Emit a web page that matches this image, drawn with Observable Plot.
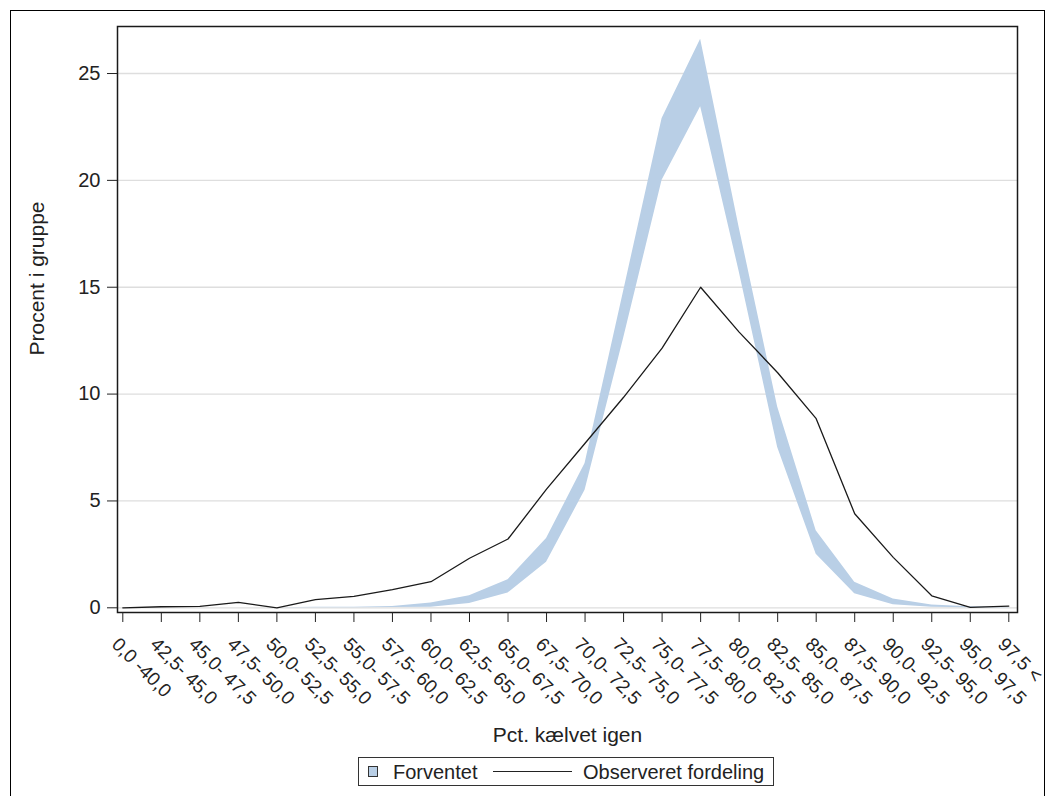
<!DOCTYPE html>
<html>
<head>
<meta charset="utf-8">
<script src="https://cdn.jsdelivr.net/npm/d3@7"></script>
<script src="https://cdn.jsdelivr.net/npm/@observablehq/plot@0.6"></script>
<style>
  body { margin: 0; background: #fff; font-family: "Liberation Sans", Arial, sans-serif; color: #222; }
  #wrap { position: relative; width: 1058px; height: 796px; overflow: hidden; }
  #border { position: absolute; left: 10px; top: 10px; width: 1035px; height: 820px; border: 1px solid #000; box-sizing: border-box; }
  #chart { position: absolute; left: 0; top: 0; }
  #legend { position: absolute; left: 358px; top: 757px; width: 416px; height: 29px; border: 1px solid #333; box-sizing: border-box; font-size: 20px; line-height: 20px; }
  #legend .sw { position: absolute; left: 9px; top: 8px; width: 8px; height: 9px; background: #b9cfe6; border: 1px solid #333; }
  #legend .lab { position: absolute; top: 4px; white-space: nowrap; }
  #legend .ln { position: absolute; left: 134px; width: 79px; top: 13px; height: 0; border-top: 1.3px solid #222; }
</style>
</head>
<body>
<div id="wrap">
  <div id="border"></div>
  <div id="chart"></div>
  <div id="legend"></div>
</div>
<script>
const categories = ["0,0 -40,0", "42,5- 45,0", "45,0- 47,5", "47,5- 50,0", "50,0- 52,5", "52,5- 55,0",
  "55,0- 57,5", "57,5- 60,0", "60,0- 62,5", "62,5- 65,0", "65,0- 67,5", "67,5- 70,0",
  "70,0- 72,5", "72,5- 75,0", "75,0- 77,5", "77,5- 80,0", "80,0- 82,5", "82,5- 85,0",
  "85,0- 87,5", "87,5- 90,0", "90,0- 92,5", "92,5- 95,0", "95,0- 97,5", "97,5 <"];
const observed = [0.0, 0.05, 0.07, 0.25, 0.0, 0.38, 0.53, 0.85, 1.22, 2.32, 3.22, 5.55,
  7.7, 9.85, 12.15, 15.0, 12.9, 11.0, 8.85, 4.4, 2.36, 0.56, 0.02, 0.08];
const expectedLow = [0, 0, 0, 0, 0, 0, 0, 0.01, 0.03, 0.2, 0.69, 2.13,
  5.5, 12.6, 20.0, 23.45, 15.74, 7.5, 2.5, 0.66, 0.14, 0.02, 0.0, 0.0];
const expectedHigh = [0, 0, 0, 0, 0, 0.02, 0.03, 0.06, 0.22, 0.56, 1.31, 3.24,
  6.75, 14.8, 22.9, 26.6, 17.8, 9.4, 3.6, 1.2, 0.41, 0.13, 0.05, 0.02];
const yTicks = [0, 5, 10, 15, 20, 25];
const seriesNames = ["Forventet", "Observeret fordeling"];
const xTitle = "Pct. kælvet igen";
const yTitle = "Procent i gruppe";

const rows = categories.map((c, i) => ({c, obs: observed[i], lo: expectedLow[i], hi: expectedHigh[i]}));

const chart = Plot.plot({
  width: 1058,
  height: 750,
  marginLeft: 117,
  marginRight: 41,
  marginTop: 26,
  marginBottom: 138,
  style: {fontFamily: '"Liberation Sans", Arial, sans-serif', fontSize: "20px", color: "#222", background: "transparent", overflow: "visible"},
  x: {type: "point", domain: categories, range: [122.3, 1008.3], padding: 0, round: false, label: null},
  y: {domain: [-0.22, 27.2], label: null},
  marks: [
    Plot.gridY(yTicks, {stroke: "#dedede", strokeOpacity: 1, strokeWidth: 1.3}),
    Plot.areaY(rows, {x: "c", y1: "lo", y2: "hi", fill: "#b9cfe6", fillOpacity: 1}),
    Plot.lineY(rows, {x: "c", y: "obs", stroke: "#1a1a1a", strokeWidth: 1.3}),
    Plot.frame({stroke: "#1a1a1a", strokeWidth: 1.5}),
    Plot.axisY(yTicks, {tickSize: 10, tickPadding: 7, label: null, fontSize: 20}),
    Plot.axisX({tickSize: 10, tickFormat: () => "", label: null}),
    Plot.text(categories, {x: d => d, text: d => d, frameAnchor: "bottom", rotate: 45, textAnchor: "start", lineAnchor: "bottom", dx: -12, dy: 33, fontSize: 19, fill: "#222"}),
    Plot.text([xTitle], {text: d => d, frameAnchor: "bottom", dy: 129.7, textAnchor: "middle", lineAnchor: "bottom", fontSize: 21, fill: "#222"}),
    Plot.text([yTitle], {text: d => d, frameAnchor: "left", rotate: -90, dx: -73.7, dy: -41, textAnchor: "middle", lineAnchor: "bottom", fontSize: 21, fill: "#222"})
  ]
});
document.getElementById("chart").appendChild(chart);

const legend = document.getElementById("legend");
legend.innerHTML =
  `<div class="sw"></div><span class="lab" style="left:34px">${seriesNames[0]}</span>` +
  `<div class="ln"></div><span class="lab" style="left:224px">${seriesNames[1]}</span>`;
</script>
</body>
</html>
